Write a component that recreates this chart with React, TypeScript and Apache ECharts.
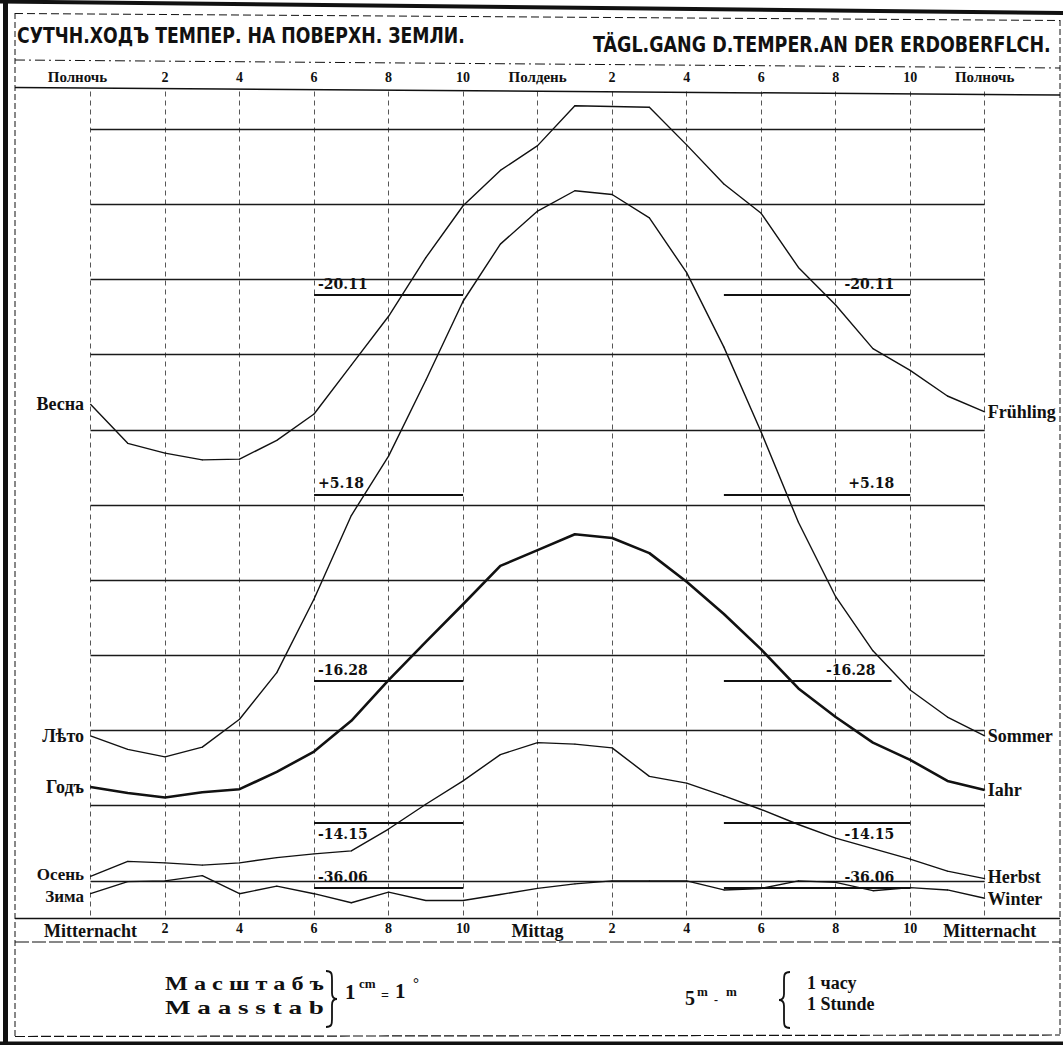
import React, { useEffect, useRef } from "react";
import * as echarts from "echarts";

// ---------- data (temperatures in chart units: 1 grid step = 1 cm = 1°) ----------
const hours = [0, 1, 2, 3, 4, 5, 6, 7, 8, 9, 10, 11, 12, 13, 14, 15, 16, 17, 18, 19, 20, 21, 22, 23, 24];
const springValues = [6.34, 5.82, 5.69, 5.6, 5.61, 5.86, 6.21, 6.86, 7.51, 8.29, 8.98, 9.45, 9.78, 10.31, 10.3, 10.29, 9.79, 9.27, 8.88, 8.16, 7.66, 7.08, 6.79, 6.45, 6.24];
const summerValues = [1.93, 1.75, 1.65, 1.78, 2.15, 2.77, 3.75, 4.86, 5.65, 6.66, 7.71, 8.47, 8.91, 9.18, 9.13, 8.82, 8.09, 7.1, 5.97, 4.77, 3.78, 3.06, 2.54, 2.18, 1.93];
const yearValues = [1.25, 1.17, 1.11, 1.18, 1.22, 1.45, 1.72, 2.13, 2.67, 3.18, 3.68, 4.19, 4.4, 4.61, 4.56, 4.36, 3.98, 3.55, 3.08, 2.56, 2.18, 1.84, 1.61, 1.33, 1.21];
const autumnValues = [0.06, 0.26, 0.24, 0.21, 0.24, 0.31, 0.36, 0.4, 0.69, 1.02, 1.33, 1.68, 1.84, 1.82, 1.77, 1.39, 1.3, 1.13, 0.95, 0.75, 0.57, 0.43, 0.29, 0.13, 0.03];
const winterValues = [-0.17, -0.01, 0.0, 0.07, -0.17, -0.07, -0.17, -0.29, -0.15, -0.26, -0.26, -0.18, -0.1, -0.04, 0.0, 0.0, 0.0, -0.12, -0.1, 0.0, -0.02, -0.13, -0.09, -0.12, -0.23];

const leftNames = ["Весна", "Лѣто", "Годъ", "Осень", "Зима"];
const rightNames = ["Frühling", "Sommer", "Iahr", "Herbst", "Winter"];
const meanLabels = ["-20.11", "+5.18", "-16.28", "-14.15", "-36.06"];
const meanLevels = [7.79, 5.14, 2.66, 0.77, -0.09];
const meanLeftSpan = [6, 10];
const meanRightStart = [17, 17, 17, 17, 17];
const meanRightEnd = [22, 22, 21.5, 22, 22];
const meanLabelBelow = [false, false, false, true, false];

const gridLevels = [0, 1, 2, 3, 4, 5, 6, 7, 8, 9, 10];
const tickHours = [0, 2, 4, 6, 8, 10, 12, 14, 16, 18, 20, 22, 24];
const topTickLabels = ["Полночь", "2", "4", "6", "8", "10", "Полдень", "2", "4", "6", "8", "10", "Полночь"];
const bottomTickLabels = ["Mitternacht", "2", "4", "6", "8", "10", "Mittag", "2", "4", "6", "8", "10", "Mitternacht"];

const titleRu = "СУТЧН.ХОДЪ ТЕМПЕР. НА ПОВЕРХН. ЗЕМЛИ.";
const titleDe = "TÄGL.GANG D.TEMPER.AN DER ERDOBERFLCH.";

// ---------- styling ----------
const INK = "#111";
const SERIF = "'Liberation Serif', 'DejaVu Serif', serif";
const WIDE_SERIF = "'DejaVu Serif', 'Liberation Serif', serif";
const SANS = "'DejaVu Sans', 'Liberation Sans', sans-serif";

const braceD = "M0,0 C6,0 6,3 6,9 L6,22 C6,26 7,28 11,28 C7,28 6,30 6,34 L6,47 C6,53 6,56 0,56";
echarts.graphic.registerShape("braceRight", echarts.graphic.extendPath(braceD, {}) as any);

function measure(text: string, font: string): number {
  const c = document.createElement("canvas").getContext("2d");
  if (!c) return text.length * 10;
  c.font = font;
  return c.measureText(text).width;
}

function fitText(text: string, x: number, y: number, width: number, size: number, family: string, weight = "bold") {
  const w = measure(text, `${weight} ${size}px ${family}`);
  return {
    type: "text",
    x,
    y,
    scaleX: width / w,
    z: 20,
    style: {
      text,
      fontSize: size,
      fontFamily: family,
      fontWeight: weight,
      fill: INK,
      align: "left",
      verticalAlign: "middle",
      textAlign: "left",
      textVerticalAlign: "middle",
    },
  };
}

function plainText(text: string, x: number, y: number, size: number, family = SERIF, weight = "bold") {
  return {
    type: "text",
    x,
    y,
    z: 20,
    style: {
      text,
      fontSize: size,
      fontFamily: family,
      fontWeight: weight,
      fill: INK,
      align: "left",
      verticalAlign: "middle",
      textAlign: "left",
      textVerticalAlign: "middle",
    },
  };
}

function seg(x1: number, y1: number, x2: number, y2: number, w: number, dash?: number[]) {
  return {
    type: "line",
    z: 15,
    shape: { x1, y1, x2, y2 },
    style: { stroke: INK, lineWidth: w, lineDash: dash || null },
  };
}

const seasonValues = [springValues, summerValues, yearValues, autumnValues, winterValues];
const seasonWidths = [1.4, 1.4, 2.6, 1.4, 1.4];
const leftLabelOffsets = [0, 0, 0, -2, 3];
const rightLabelOffsets = [0, 0, 0, -2, 1];

export default function App() {
  const ref = useRef<HTMLDivElement>(null);

  useEffect(() => {
    if (!ref.current) return;
    const chart = echarts.init(ref.current, null, { renderer: "svg" });

    const topFmt = (v: number) => {
      const i = tickHours.indexOf(v);
      if (i < 0) return "";
      const t = topTickLabels[i];
      if (v === 0) return `{wl|${t}}`;
      if (v === 12 || v === 24) return `{w|${t}}`;
      return `{n|${t}}`;
    };
    const bottomFmt = (v: number) => {
      const i = tickHours.indexOf(v);
      if (i < 0) return "";
      const t = bottomTickLabels[i];
      if (v === 24) return `{wr|${t}}`;
      if (v === 0 || v === 12) return `{w|${t}}`;
      return `{n|${t}}`;
    };

    const seasonSeries = seasonValues.map((vals, si) => ({
      type: "line",
      name: rightNames[si],
      xAxisIndex: 0,
      yAxisIndex: 0,
      symbol: "circle",
      symbolSize: 1,
      showSymbol: true,
      silent: true,
      z: 5,
      itemStyle: { color: INK },
      lineStyle: { color: INK, width: seasonWidths[si] },
      data: hours.map((h, i) =>
        i === 0
          ? {
              value: [h, vals[i]],
              label: {
                show: true,
                position: "left",
                distance: 6,
                offset: [0, leftLabelOffsets[si]],
                formatter: leftNames[si],
                fontFamily: SERIF,
                fontWeight: "bold",
                fontSize: si >= 3 ? 17 : 18,
                color: INK,
              },
            }
          : [h, vals[i]]
      ),
      endLabel: {
        show: true,
        formatter: rightNames[si],
        distance: 3,
        offset: [0, rightLabelOffsets[si]],
        fontFamily: SERIF,
        fontWeight: "bold",
        fontSize: 18,
        color: INK,
      },
      markLine: {
        symbol: ["none", "none"],
        silent: true,
        animation: false,
        lineStyle: { color: INK, width: 1.8, type: "solid" },
        label: {
          show: true,
          formatter: meanLabels[si],
          fontFamily: WIDE_SERIF,
          fontWeight: "bold",
          fontSize: 14,
          color: INK,
          distance: 4,
        },
        data: [
          [
            {
              coord: [meanLeftSpan[0], meanLevels[si]],
              label: { position: meanLabelBelow[si] ? "insideStartBottom" : "insideStartTop" },
            },
            { coord: [meanLeftSpan[1], meanLevels[si]] },
          ],
          [
            {
              coord: [meanRightStart[si], meanLevels[si]],
              label: {
                position: meanLabelBelow[si] ? "insideEndBottom" : "insideEndTop",
                padding: [0, 12, 0, 0],
              },
            },
            { coord: [meanRightEnd[si], meanLevels[si]] },
          ],
        ],
      },
    }));

    const gridSeries = {
      type: "line",
      name: "grid",
      data: [],
      silent: true,
      z: 2,
      markLine: {
        symbol: ["none", "none"],
        silent: true,
        animation: false,
        label: { show: false },
        lineStyle: { color: "#1a1a1a", width: 1.3, type: "solid" },
        data: gridLevels.map((v) => ({ yAxis: v })),
      },
    };

    const titleRuEl = fitText(titleRu, 17, 36, 448, 21, SANS);
    const titleDeEl = fitText(titleDe, 593, 45, 458, 21, SANS);

    const graphics: any[] = [
      // outer thick frame
      seg(5.5, 0, 5.5, 1045, 5),
      seg(0, 1.5, 1063, 13, 4),
      seg(0, 1043.5, 1063, 1043.5, 4),
      // inner thin frame
      seg(15, 13, 15, 1037, 1, [6, 3]),
      seg(15, 13.5, 1060, 20.5, 1, [8, 4]),
      seg(1060, 20, 1060, 1036, 1, [6, 3]),
      seg(15, 1036.5, 1060, 1035, 1.2, [10, 3]),
      // header separators
      seg(15, 60, 1060, 68, 1, [10, 4, 2, 4]),
      seg(15, 87.5, 1060, 95, 1.5),
      // plot bottom and label row
      seg(15, 918.5, 1060, 918.5, 1.6),
      seg(15, 942, 1060, 942, 1.2, [14, 3]),
      titleRuEl,
      titleDeEl,
      // scale legend
      fitText("М а с ш т а б ъ", 165, 984, 159, 19, SERIF),
      fitText("M a a s s t a b", 165, 1008, 159, 19, SERIF),
      { type: "braceRight", x: 326, y: 971, z: 20, style: { fill: "none", stroke: INK, lineWidth: 1.8 } },
      plainText("1", 345, 992, 21),
      plainText("cm", 359, 983, 13),
      plainText("=", 381, 995, 14),
      plainText("1", 395, 991, 21),
      plainText("°", 413, 983, 15),
      plainText("5", 685, 998, 20),
      plainText("m", 697, 991, 13),
      plainText("-", 714, 1000, 12),
      plainText("m", 726, 991, 13),
      { type: "braceRight", x: 790, y: 972, scaleX: -1, z: 20, style: { fill: "none", stroke: INK, lineWidth: 1.8 } },
      plainText("1 часу", 807, 983, 18),
      plainText("1 Stunde", 807, 1004, 18),
    ];

    const option: any = {
      animation: false,
      backgroundColor: "#ffffff",
      grid: { left: 90.5, right: 78.3, top: 91.5, bottom: 126.5, containLabel: false },
      xAxis: [
        {
          type: "value",
          position: "bottom",
          min: 0,
          max: 24,
          interval: 2,
          axisLine: { show: false },
          axisTick: { show: false },
          splitLine: { show: true, lineStyle: { color: "#444", width: 0.9, type: [5, 4] } },
          axisLabel: {
            show: true,
            margin: 3,
            showMinLabel: true,
            showMaxLabel: true,
            hideOverlap: false,
            formatter: bottomFmt,
            rich: {
              w: { fontFamily: SERIF, fontWeight: "bold", fontSize: 18, color: INK },
              wr: { fontFamily: SERIF, fontWeight: "bold", fontSize: 18, color: INK, padding: [0, 0, 0, 10] },
              n: { fontFamily: SERIF, fontWeight: "bold", fontSize: 14, color: INK },
            },
          },
        },
        {
          type: "value",
          position: "top",
          min: 0,
          max: 24,
          interval: 2,
          axisLine: { show: false },
          axisTick: { show: false },
          splitLine: { show: false },
          axisLabel: {
            show: true,
            margin: 7,
            showMinLabel: true,
            showMaxLabel: true,
            hideOverlap: false,
            formatter: topFmt,
            rich: {
              w: { fontFamily: SERIF, fontWeight: "bold", fontSize: 15, color: INK },
              wl: { fontFamily: SERIF, fontWeight: "bold", fontSize: 15, color: INK, padding: [0, 26, 0, 0] },
              n: { fontFamily: SERIF, fontWeight: "bold", fontSize: 14, color: INK },
            },
          },
        },
      ],
      yAxis: {
        type: "value",
        min: -0.5,
        max: 10.5,
        axisLine: { show: false },
        axisTick: { show: false },
        axisLabel: { show: false },
        splitLine: { show: false },
      },
      series: [gridSeries, ...seasonSeries],
      graphic: { elements: graphics },
    };

    chart.setOption(option);
    return () => chart.dispose();
  }, []);

  return (
    <div
      ref={ref}
      style={{ position: "absolute", left: 0, top: 0, width: 1063, height: 1045, background: "#fff" }}
    />
  );
}
